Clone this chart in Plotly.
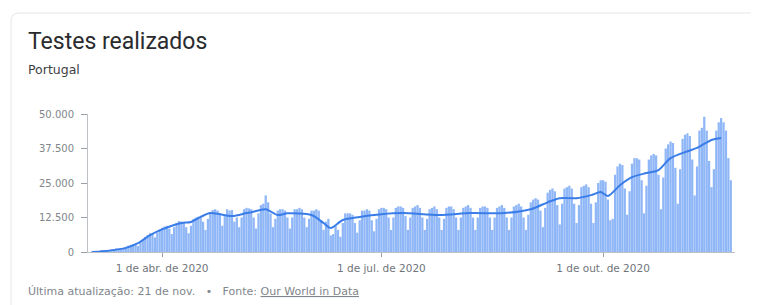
import pandas as pd
import plotly.graph_objects as go

# ---- data ----
start_date = "2020-03-03"
daily_tests = [
    100, 150, 250, 350, 400, 300,                         # wk Mar 2 (from Tue)
    500, 700, 900, 1100, 1300, 1200, 1000,                # Mar 9
    1500, 1900, 2300, 2600, 2900, 2700, 2200,             # Mar 16
    3500, 4500, 5500, 6200, 6800, 6500, 5300,             # Mar 23
    7000, 8200, 8800, 9200, 9500, 8500, 6500,             # Mar 30
    9000, 10500, 11200, 11000, 10800, 9000, 6800,         # Apr 6
    9500, 12000, 12500, 12800, 12600, 11000, 8000,        # Apr 13
    12000, 14500, 15200, 15500, 15000, 13500, 9500,       # Apr 20
    13000, 15500, 15000, 15200, 11000, 12500, 9000,       # Apr 27
    12500, 15500, 16000, 15800, 15500, 12500, 8500,       # May 4
    14000, 17000, 17500, 20500, 18000, 14000, 9000,       # May 11
    12000, 15000, 15500, 15500, 15000, 12500, 8500,       # May 18
    12500, 15500, 15500, 16000, 15500, 12500, 9000,       # May 25
    12000, 15000, 15000, 15500, 15000, 11500, 8000,       # Jun 1
    11000, 12000, 6000, 6500, 9500, 8000, 5500,           # Jun 8
    10500, 14000, 14000, 14000, 13500, 10500, 7000,       # Jun 15
    11500, 15000, 15000, 15500, 15000, 11500, 7500,       # Jun 22
    12000, 15500, 16000, 16000, 15500, 12500, 8000,       # Jun 29
    12500, 16000, 16500, 16500, 16000, 13000, 8000,       # Jul 6
    12500, 16000, 16500, 17000, 16000, 12500, 8000,       # Jul 13
    12000, 15500, 16000, 16500, 15500, 12500, 8000,       # Jul 20
    12000, 16000, 16500, 16500, 15500, 12500, 8000,       # Jul 27
    12500, 16000, 16500, 17000, 16000, 12500, 8000,       # Aug 3
    12500, 16000, 16500, 16500, 16000, 12500, 8000,       # Aug 10
    12500, 16000, 16500, 17000, 16000, 12500, 8000,       # Aug 17
    12500, 16500, 17000, 17500, 16500, 12500, 8000,       # Aug 24
    13500, 18000, 19000, 19500, 19000, 15000, 9000,       # Aug 31
    16000, 21500, 22500, 23000, 22000, 17000, 10000,      # Sep 7
    17500, 23000, 23500, 24000, 23000, 17500, 10500,      # Sep 14
    17000, 23500, 24000, 24500, 23500, 17500, 10500,      # Sep 21
    18000, 25000, 26000, 26000, 25500, 19000, 11500,      # Sep 28
    12000, 28000, 31000, 32000, 31500, 23000, 13500,      # Oct 5
    22000, 32000, 34000, 34000, 33500, 26000, 14000,      # Oct 12
    24000, 33500, 35000, 35500, 35000, 28000, 15500,      # Oct 19
    27000, 37500, 39000, 40000, 39500, 30500, 17500,      # Oct 26
    30000, 41000, 42500, 43000, 42000, 33500, 20500,      # Nov 2
    31000, 44000, 45000, 49000, 44000, 33000, 23500,      # Nov 9
    30000, 44000, 47000, 48500, 47000, 44000, 34000,      # Nov 16
    26000,                                                # Nov 23
]

avg_dates = [
    "2020-03-03", "2020-03-10", "2020-03-17", "2020-03-22", "2020-03-27",
    "2020-04-01", "2020-04-09", "2020-04-13", "2020-04-17", "2020-04-21",
    "2020-04-30", "2020-05-06", "2020-05-08", "2020-05-14", "2020-05-19",
    "2020-05-23", "2020-06-02", "2020-06-07", "2020-06-10", "2020-06-15",
    "2020-06-22", "2020-07-01", "2020-07-10", "2020-07-25", "2020-08-07",
    "2020-08-21", "2020-09-01", "2020-09-08", "2020-09-13", "2020-09-20",
    "2020-09-26", "2020-09-30", "2020-10-03", "2020-10-08", "2020-10-13",
    "2020-10-19", "2020-10-24", "2020-10-29", "2020-11-04", "2020-11-09",
    "2020-11-15", "2020-11-19",
]
avg_values = [
    0, 500, 1500, 3200, 6100,
    8200, 10500, 10900, 12700, 14100,
    13000, 14100, 14400, 15500, 13400,
    14000, 13400, 10500, 8700, 11600,
    12700, 13700, 14100, 13400, 14100,
    14100, 15500, 18000, 19500, 19500,
    20600, 21700, 20300, 24200, 27100,
    28600, 29700, 34000, 36200, 37700,
    40600, 41300,
]

y_tickvals = [0, 12500, 25000, 37500, 50000]
y_ticktext = ["0", "12.500", "25.000", "37.500", "50.000"]
x_tickvals = ["2020-04-01", "2020-07-01", "2020-10-01"]
x_ticktext = ["1 de abr. de 2020", "1 de jul. de 2020", "1 de out. de 2020"]

title = "Testes realizados"
subtitle = "Portugal"
NB = "\u00a0"
footer = ("Última atualização: 21 de nov." + NB * 3 + "•" + NB * 3 + "Fonte: "
          "<span style='text-decoration:underline'>Our World in Data</span>")

dates = pd.date_range(start_date, periods=len(daily_tests), freq="D")

# ---- figure ----
OFF = 8                      # page body margin
W, H = 759 - OFF, 305 - OFF
L, R, T, B = 88 - OFF, 735 - OFF, 114 - OFF, 252 - OFF   # plot area (layout px)

def px(xp):                  # target-image pixel -> paper x
    return (xp - OFF - L) / (R - L)

def py(yp):                  # target-image pixel -> paper y
    return (B - (yp - OFF)) / (B - T)

SMALL = "DejaVu Sans"

fig = go.Figure()
fig.add_trace(go.Bar(
    x=dates, y=daily_tests,
    marker=dict(color="#8fb6f6", line=dict(width=0)),
    hoverinfo="skip",
))
fig.add_trace(go.Scatter(
    x=pd.to_datetime(avg_dates), y=avg_values, mode="lines",
    line=dict(color="#3a7de8", width=2, shape="spline", smoothing=0.8),
    hoverinfo="skip",
))

card_left, card_top = 11, 13
r = 8
path = (f"M {px(card_left)} {py(330)} "
        f"L {px(card_left)} {py(card_top + r)} "
        f"Q {px(card_left)} {py(card_top)} {px(card_left + r)} {py(card_top)} "
        f"L {px(780)} {py(card_top)}")
fig.add_shape(type="path", path=path, xref="paper", yref="paper",
              line=dict(color="#e6e6e6", width=1), layer="below")

fig.add_annotation(text=title, x=px(25.5), y=py(42), xref="paper", yref="paper",
                   xanchor="left", yanchor="middle", showarrow=False,
                   font=dict(family="Roboto", size=23, color="#2a2b2e"))
fig.add_annotation(text=subtitle, x=px(25.5), y=py(70), xref="paper", yref="paper",
                   xanchor="left", yanchor="middle", showarrow=False,
                   font=dict(family=SMALL, size=12.5, color="#3c4043"))
fig.add_annotation(text=footer, x=px(25.5), y=py(291), xref="paper", yref="paper",
                   xanchor="left", yanchor="middle", showarrow=False,
                   font=dict(family=SMALL, size=11, color="#80868b"))

fig.update_layout(
    width=W, height=H,
    margin=dict(l=L, r=W - R, t=T, b=H - B, pad=0),
    paper_bgcolor="white", plot_bgcolor="white",
    showlegend=False, bargap=0.06,
    font=dict(family=SMALL, color="#5f6368"),
)
fig.update_xaxes(
    type="date", range=["2020-03-01 06:00", "2020-11-24 18:00"],
    tickvals=x_tickvals, ticktext=x_ticktext,
    ticks="outside", ticklen=4, tickcolor="#9aa0a6",
    ticklabelstandoff=2,
    tickfont=dict(family=SMALL, size=10.5, color="#70757a"),
    showgrid=False, zeroline=False,
    showline=True, linecolor="#bdc1c6", linewidth=1,
)
fig.update_yaxes(
    range=[0, 50000], tickvals=y_tickvals, ticktext=y_ticktext,
    ticks="outside", ticklen=6, tickcolor="#9aa0a6",
    ticklabelstandoff=5,
    tickfont=dict(family=SMALL, size=10, color="#80868b"),
    showgrid=False, zeroline=False,
    showline=True, linecolor="#bdc1c6", linewidth=1,
)

fig.write_html("out.html")
